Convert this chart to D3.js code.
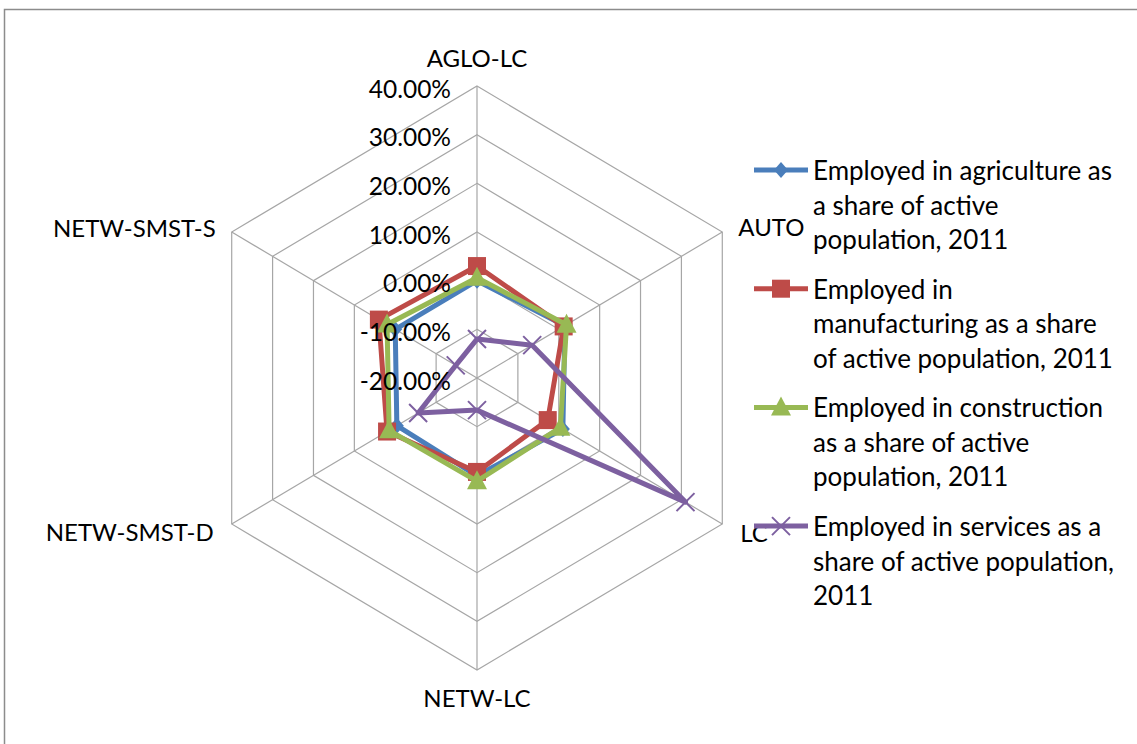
<!DOCTYPE html>
<html>
<head>
<meta charset="utf-8">
<script src="https://cdn.jsdelivr.net/npm/d3@7"></script>
<style>
  html, body { margin: 0; padding: 0; background: #fff; }
  svg { display: block; }
  text { font-family: Lato, "Open Sans", sans-serif; fill: #000; }
</style>
</head>
<body>
<svg id="chart" width="1137" height="744"></svg>
<script>
// Axis categories, clockwise from the top
const categories = ["AGLO-LC", "AUTO", "LC", "NETW-LC", "NETW-SMST-D", "NETW-SMST-S"];

// Radial tick values (the centre is -20%)
const tickValues = [-0.2, -0.1, 0.0, 0.1, 0.2, 0.3, 0.4];

// Series values, one per category
const agriculture   = [0.000, 0.015, 0.010, 0.001, -0.004, 0.000];
const manufacturing = [0.030, 0.012, -0.027, -0.007, 0.020, 0.040];
const construction  = [0.006, 0.019, 0.004, 0.012, 0.015, 0.020];
const services      = [-0.120, -0.065, 0.310, -0.134, -0.056, -0.148];

// Legend labels, wrapped into lines
const seriesNames = [
  ["Employed in agriculture as", "a share of active", "population, 2011"],
  ["Employed in", "manufacturing as a share", "of active population, 2011"],
  ["Employed in construction", "as a share of active", "population, 2011"],
  ["Employed in services as a", "share of active population,", "2011"]
];

const series = [
  { values: agriculture,   color: "#4A7EBB", marker: "diamond" },
  { values: manufacturing, color: "#BE4B48", marker: "square" },
  { values: construction,  color: "#98B954", marker: "triangle" },
  { values: services,      color: "#7D60A0", marker: "x" }
];

const svg = d3.select("#chart");
const cx = 477, cy = 378, R = 292, xStretch = 0.97;
const gridColor = "#A6A6A6";

const r = d3.scaleLinear().domain([-0.2, 0.4]).range([0, R]);
const angle = d3.scaleBand().domain(categories).range([0, 2 * Math.PI]).paddingInner(0).paddingOuter(0);
const pt = (c, v) => {
  const a = angle(c), rr = r(v);
  return [cx + rr * Math.sin(a) * xStretch, cy - rr * Math.cos(a)];
};

// Chart area frame
svg.append("rect")
  .attr("x", 4.5).attr("y", 9.5).attr("width", 1200).attr("height", 800)
  .attr("fill", "none").attr("stroke", "#8C8C8C").attr("stroke-width", 1.5);

// Grid rings
const grid = svg.append("g");
tickValues.slice(1).forEach(t => {
  grid.append("path")
    .attr("d", d3.line()(categories.map(c => pt(c, t))) + "Z")
    .attr("fill", "none").attr("stroke", gridColor).attr("stroke-width", 1.2);
});
// Spokes
categories.forEach(c => {
  const [x, y] = pt(c, tickValues[tickValues.length - 1]);
  grid.append("line")
    .attr("x1", cx).attr("y1", cy).attr("x2", x).attr("y2", y)
    .attr("stroke", gridColor).attr("stroke-width", 1.2);
});

// Category labels
const labelOffsets = {
  "AGLO-LC":     { dx: 0,   dy: -29, anchor: "middle" },
  "AUTO":        { dx: 16,  dy: -6,  anchor: "start" },
  "LC":          { dx: 18,  dy: 8,   anchor: "start" },
  "NETW-LC":     { dx: 0,   dy: 27,  anchor: "middle" },
  "NETW-SMST-D": { dx: -18, dy: 7,   anchor: "end" },
  "NETW-SMST-S": { dx: -16, dy: -5,  anchor: "end" }
};
svg.append("g").selectAll("text").data(categories).join("text")
  .attr("x", c => pt(c, 0.4)[0] + labelOffsets[c].dx)
  .attr("y", c => pt(c, 0.4)[1] + labelOffsets[c].dy)
  .attr("text-anchor", c => labelOffsets[c].anchor)
  .attr("dominant-baseline", "central")
  .attr("font-size", 24)
  .text(c => c);

// Marker shapes
function drawMarker(g, type, color, x, y) {
  if (type === "square") {
    g.append("rect").attr("x", x - 9).attr("y", y - 9).attr("width", 18).attr("height", 18)
      .attr("fill", color);
  } else if (type === "triangle") {
    g.append("path").attr("d", `M${x},${y - 11}L${x + 10},${y + 8}L${x - 10},${y + 8}Z`)
      .attr("fill", color);
  } else if (type === "diamond") {
    g.append("path").attr("d", `M${x},${y - 8}L${x + 7},${y}L${x},${y + 8}L${x - 7},${y}Z`)
      .attr("fill", color);
  } else if (type === "x") {
    g.append("path").attr("d", `M${x - 9},${y - 9}L${x + 9},${y + 9}M${x + 9},${y - 9}L${x - 9},${y + 9}`)
      .attr("stroke", color).attr("stroke-width", 2).attr("fill", "none");
  }
}

// Series polygons and markers
const line = d3.line().curve(d3.curveLinearClosed);
series.forEach(s => {
  const g = svg.append("g");
  const pts = categories.map((c, i) => pt(c, s.values[i]));
  g.append("path").attr("d", line(pts))
    .attr("fill", "none").attr("stroke", s.color).attr("stroke-width", 5)
    .attr("stroke-linejoin", "round");
  pts.forEach(([x, y]) => drawMarker(g, s.marker, s.color, x, y));
});

// Tick labels along the top spoke, drawn above the series
const fmt = d3.formatLocale({ decimal: ".", thousands: ",", grouping: [3], currency: ["", ""], minus: "-" }).format(".2%");
svg.append("g").selectAll("text").data(tickValues).join("text")
  .attr("x", cx - 26)
  .attr("y", d => cy - r(d) + 2)
  .attr("text-anchor", "end")
  .attr("dominant-baseline", "central")
  .attr("font-size", 24.5)
  .text(d => fmt(d));

// Legend
const legend = svg.append("g");
const legendTop = 170, entryStep = 118.7, lineStep = 34.5;
series.forEach((s, i) => {
  const y = legendTop + i * entryStep;
  legend.append("line").attr("x1", 754).attr("x2", 808).attr("y1", y).attr("y2", y)
    .attr("stroke", s.color).attr("stroke-width", 5);
  drawMarker(legend, s.marker, s.color, 781, y);
  seriesNames[i].forEach((t, j) => {
    legend.append("text")
      .attr("x", 813).attr("y", y + j * lineStep)
      .attr("dominant-baseline", "central")
      .attr("font-size", 26)
      .text(t);
  });
});
</script>
</body>
</html>
